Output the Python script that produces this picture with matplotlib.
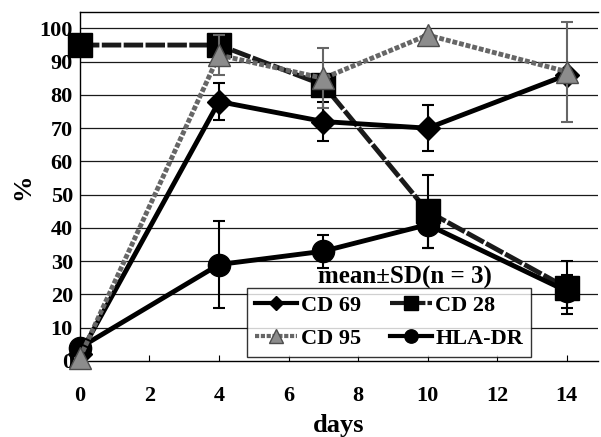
import numpy as np
import matplotlib.pyplot as plt
from matplotlib.lines import Line2D

plt.rcParams['font.family'] = ['Liberation Serif', 'DejaVu Serif']
plt.rcParams['font.weight'] = 'bold'

# data
days = [0, 4, 7, 10, 14]
cd69 = [2, 78, 72, 70, 86]
cd69_sd = [0, 5.5, 6, 7, 0]
cd28 = [95, 95, 83, 45, 22]
cd28_sd = [0, 0, 0, 11, 8]
cd95 = [1, 92, 85, 98, 87]
cd95_sd = [0, 6, 9, 0, 15]
hla = [4, 29, 33, 41, 21]
hla_sd = [0, 13, 5, 7, 5]

fig = plt.figure(figsize=(6.01, 4.37), dpi=100)
ax = fig.add_axes([0.133, 0.174, 0.862, 0.799])

for y in range(10, 101, 10):
    ax.axhline(y, color='0.1', lw=0.9, zorder=0)

st95 = dict(color='0.4', marker='^', ms=16, lw=3.5, ls=(0, (1, 0.4)),
            mfc='0.55', mec='0.3')
st28 = dict(color='0.1', marker='s', ms=17, lw=3.5, ls=(0, (4, 0.5)),
            mfc='black', mec='black')
st69 = dict(color='black', marker='D', ms=12, lw=3.5)
sthla = dict(color='black', marker='o', ms=16, lw=3.5)

eb = dict(elinewidth=1.5, capsize=4, capthick=1.5, clip_on=False)
ax.errorbar(days, cd28, yerr=cd28_sd, ecolor='black', zorder=3, **st28, **eb)
ax.errorbar(days, cd69, yerr=cd69_sd, ecolor='black', zorder=4, **st69, **eb)
ax.errorbar(days, hla, yerr=hla_sd, ecolor='black', zorder=4, **sthla, **eb)
ax.errorbar(days, cd95, yerr=cd95_sd, ecolor='0.4', zorder=5, **st95, **eb)

ax.set_xlim(0, 14.9)
ax.set_ylim(0, 105)
ax.set_xticks(range(0, 15, 2))
ax.set_yticks(range(0, 101, 10))
ax.tick_params(axis='x', direction='in', length=4, pad=18, labelsize=16)
ax.tick_params(axis='y', length=0, pad=5, labelsize=16)
for s in ['top', 'bottom']:
    ax.spines[s].set_linestyle((0, (2, 1)))
    ax.spines[s].set_linewidth(1)
ax.spines['right'].set_visible(False)
ax.spines['left'].set_linewidth(1)

ax.set_xlabel('days', fontsize=19, fontweight='bold', labelpad=6)
ax.set_ylabel('%', fontsize=19, fontweight='bold', labelpad=4)

def handle(st):
    d = dict(st)
    d['ms'] = d['ms'] * 0.6
    d['lw'] = 3
    return Line2D([], [], **d)

# ncol fills by column: CD 69 / CD 95 first column, CD 28 / HLA-DR second
hs = [handle(st69), handle(st95), handle(st28), handle(sthla)]
ls = ['CD 69', 'CD 95', 'CD 28', 'HLA-DR']
leg = ax.legend(hs, ls, ncol=2, loc='lower left', bbox_to_anchor=(0.323, 0.012),
                fontsize=16, frameon=True, fancybox=False, edgecolor='black',
                handlelength=1.9, columnspacing=1.3, handletextpad=0.15,
                borderpad=0.35, labelspacing=0.55, borderaxespad=0)
leg.get_frame().set_linewidth(1)
leg.set_zorder(6)
ax.text(0.627, 0.222, 'mean±SD(n = 3)', transform=ax.transAxes, fontsize=18,
        fontweight='bold', ha='center', va='baseline', zorder=7)

fig.savefig('out.png', dpi=100)
